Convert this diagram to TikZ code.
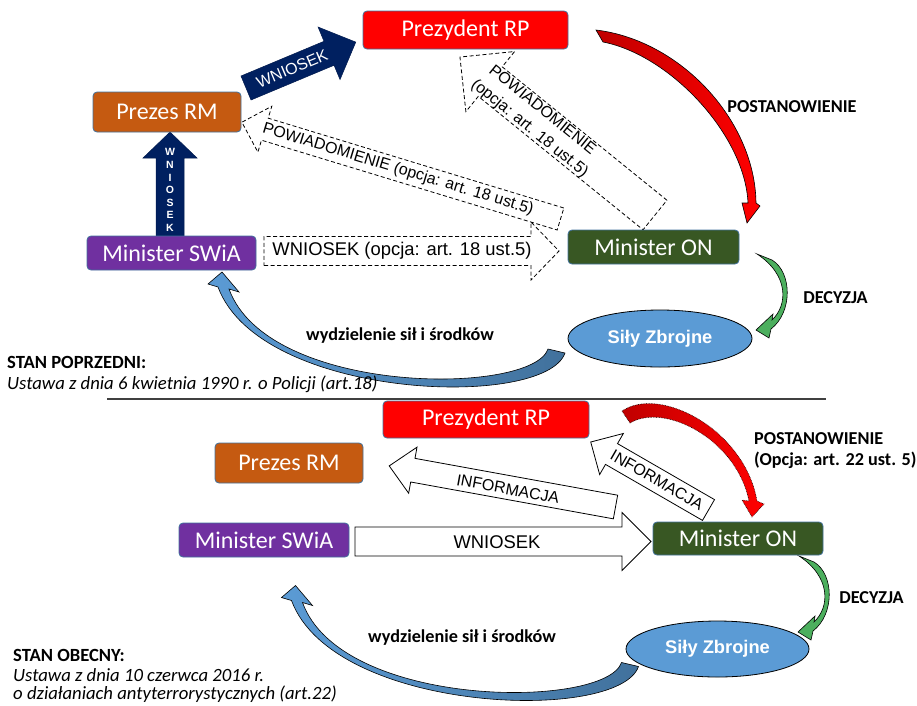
\documentclass[tikz,border=0pt]{standalone}
\usepackage{fontspec}
\setmainfont{Carlito}
\newfontfamily\arialf{Liberation Sans}
\usetikzlibrary{shapes.geometric}
\definecolor{cred}{HTML}{FF0000}
\definecolor{cdred}{HTML}{C00000}
\definecolor{corange}{HTML}{C55A11}
\definecolor{cpurple}{HTML}{7030A0}
\definecolor{cgreen}{HTML}{385723}
\definecolor{cblue}{HTML}{5B9BD5}
\definecolor{cdblue}{HTML}{41719C}
\definecolor{cnavy}{HTML}{002060}
\definecolor{cbline}{HTML}{41719C}
\definecolor{carrgreen}{HTML}{4CAF5E}
\definecolor{cline}{HTML}{404040}
\newcommand{\blockarrow}[7]{%
  \begin{scope}[shift={#2},rotate=#3]
    \path[#1] (0,#5) -- ({#4-#7},#5) -- ({#4-#7},#6) -- (#4,0) -- ({#4-#7},-#6) -- ({#4-#7},-#5) -- (0,-#5) -- cycle;
  \end{scope}}
\begin{document}
\begin{tikzpicture}[x=1pt,y=-1pt,
  box/.style={rectangle, rounded corners=4pt, draw=cbline, line width=0.8pt, text=white, inner sep=0pt, font=\fontsize{24}{28}\selectfont},
  ell/.style={ellipse, draw=black, line width=0.8pt, fill=cblue, inner sep=0pt, text=white, font=\arialf\bfseries\fontsize{18.3}{22}\selectfont},
  lbl/.style={font=\bfseries\fontsize{18.2}{22}\selectfont, inner sep=0pt},
  note/.style={anchor=west, inner sep=0pt, font=\fontsize{18.6}{22}\selectfont},
  dasharr/.style={draw=black, line width=0.8pt, dash pattern=on 4pt off 2.5pt},
  solidarr/.style={draw=black, line width=0.8pt, fill=white},
  navyarr/.style={fill=cnavy, draw=cnavy!80!black, line width=0.5pt},
  atext/.style={font=\arialf\fontsize{16}{19}\selectfont, inner sep=0pt},
  btext/.style={font=\arialf\fontsize{18.4}{21}\selectfont, inner sep=0pt},
  curv/.style={draw=black, line width=0.6pt},
]
\useasboundingbox (0,0) rectangle (917,705);

% ================= TOP (stan poprzedni) =================
\blockarrow{navyarr}{(246,88)}{22.7}{119}{13}{28.5}{29}
\node[atext, text=white, rotate=22.7] (tW1) at (292,68.5) {WNIOSEK};
\blockarrow{navyarr}{(170,236)}{90}{104}{14}{27}{26}
\node[font=\arialf\bfseries\fontsize{10.5}{12.6}\selectfont, text=white, align=center, inner sep=0pt] (tW2) at (170,190) {W\\N\\I\\O\\S\\E\\K};
\blockarrow{dasharr}{(264,251)}{0}{295}{14.5}{29}{28}
\node[btext] (tW3) at (402,251) {WNIOSEK (opcja: art. 18 ust.5)};
\blockarrow{dasharr}{(560.5,219)}{163.1}{333}{11.5}{24}{24}
\node[atext, rotate=-16.9] (tP1) at (398,169.5) {POWIADOMIENIE (opcja: art. 18 ust.5)};
\blockarrow{dasharr}{(655,215)}{141}{251}{19}{38.7}{39}
\node[atext, rotate=-39] (tP2a) at (543,109.5) {POWIADOMIENIE};
\node[atext, rotate=-39] (tP2b) at (529.5,128.5) {(opcja: art. 18 ust.5)};

% red curved arrow (postanowienie)
\path[curv, left color=cdred, right color=cred]
  (596,30) .. controls (680,40) and (755,120) .. (756,203) -- (760,206) -- (747,223) -- (742,203) -- (748,203)
  .. controls (745,135) and (670,55) .. (603,42) -- cycle;
% green curved arrow (decyzja)
\path[curv, fill=carrgreen]
  (772,260) .. controls (792,272) and (793,312) .. (771,329) -- (769,338) -- (756,330) -- (773,314) -- (772,320)
  .. controls (788,305) and (789,275) .. (757,254) -- cycle;
% blue curved arrow (wydzielenie)
\path[curv, left color=cblue, right color=cdblue]
  (548,349) .. controls (532,396) and (268,396) .. (229,289) -- (239,292) -- (222,272) -- (208,284) -- (218,287)
  .. controls (260,400) and (545,410) .. (565,353) -- cycle;

% boxes
\node[box, fill=cred, minimum width=205pt, minimum height=38pt] (prezT) at (465.5,30) {Prezydent RP};
\node[box, fill=corange, minimum width=148pt, minimum height=40pt] (premT) at (167,112) {Prezes RM};
\node[box, fill=cpurple, minimum width=169pt, minimum height=34pt] (swiaT) at (171.5,253) {Minister SWiA};
\node[box, fill=cgreen, minimum width=171pt, minimum height=34pt] (onT) at (653.5,247) {Minister ON};
\node[ell, minimum width=184pt, minimum height=57pt] (szT) at (660,338.5) {Siły Zbrojne};

% labels
\node[lbl] (lpT) at (792,107) {POSTANOWIENIE};
\node[lbl] (ldT) at (835.5,298) {DECYZJA};
\node[lbl] (lwT) at (400,336) {wydzielenie sił i środków};
\node[note, font=\bfseries\fontsize{18.6}{22}\selectfont] (stanP) at (7,362) {STAN POPRZEDNI:};
\node[note, font=\itshape\fontsize{18.7}{22}\selectfont] (ustP) at (7,384) {Ustawa z dnia 6 kwietnia 1990 r. o Policji (art.18)};

% separator
\draw[cline, line width=1.2pt] (107,399) -- (826,399);

% ================= BOTTOM (stan obecny) =================
\blockarrow{solidarr}{(355,541.5)}{0}{296}{14.5}{29}{29}
\node[btext] (bW) at (497,542) {WNIOSEK};
\blockarrow{solidarr}{(615.5,507)}{169.7}{230}{12}{23.4}{24}
\node[atext, rotate=-10.3] (bI1) at (508,489) {INFORMACJA};
\blockarrow{solidarr}{(708.5,510)}{150}{136}{12}{23.7}{24}
\node[atext, rotate=-30] (bI2) at (657,480) {INFORMACJA};

% red dotted curved arrow
\path[draw=black, line width=0.6pt, densely dotted, left color=cdred, right color=cred]
  (622,411) .. controls (660,385) and (745,430) .. (757,501) -- (764,504) -- (752,517) -- (742,500) -- (749,501)
  .. controls (737,440) and (665,402) .. (630,423) -- cycle;
% green curved arrow
\begin{scope}[shift={(42,302)}]
\path[curv, fill=carrgreen]
  (772,260) .. controls (792,272) and (793,312) .. (771,329) -- (769,338) -- (756,330) -- (773,314) -- (772,320)
  .. controls (788,305) and (789,275) .. (757,254) -- cycle;
\end{scope}
% blue curved arrow
\begin{scope}[shift={(73.5,313.5)}]
\path[curv, left color=cblue, right color=cdblue]
  (548,349) .. controls (532,396) and (268,396) .. (229,289) -- (239,292) -- (222,272) -- (208,284) -- (218,287)
  .. controls (260,400) and (545,410) .. (565,353) -- cycle;
\end{scope}

\node[box, fill=cred, minimum width=206pt, minimum height=37pt] (prezB) at (486,419.5) {Prezydent RP};
\node[box, fill=corange, minimum width=148pt, minimum height=40pt] (premB) at (289,463) {Prezes RM};
\node[box, fill=cpurple, minimum width=170pt, minimum height=34pt] (swiaB) at (264,540) {Minister SWiA};
\node[box, fill=cgreen, minimum width=170pt, minimum height=33pt] (onB) at (738,538.5) {Minister ON};
\node[ell, minimum width=183pt, minimum height=56pt] (szB) at (717.5,649) {Siły Zbrojne};

\node[lbl, anchor=west] (lpB1) at (754,439) {POSTANOWIENIE};
\node[lbl, anchor=west] (lpB2) at (754,460) {(Opcja: art. 22 ust. 5)};
\node[lbl] (ldB) at (871.5,598) {DECYZJA};
\node[lbl] (lwB) at (462,638) {wydzielenie sił i środków};
\node[note, font=\bfseries\fontsize{18.6}{22}\selectfont] (stanO) at (13,655) {STAN OBECNY:};
\node[note, font=\itshape\fontsize{18.7}{22}\selectfont] (ustO1) at (13,675) {Ustawa z dnia 10 czerwca 2016 r.};
\node[note, font=\itshape\fontsize{18.7}{22}\selectfont] (ustO2) at (13,694) {o działaniach antyterrorystycznych (art.22)};
\end{tikzpicture}
\end{document}
